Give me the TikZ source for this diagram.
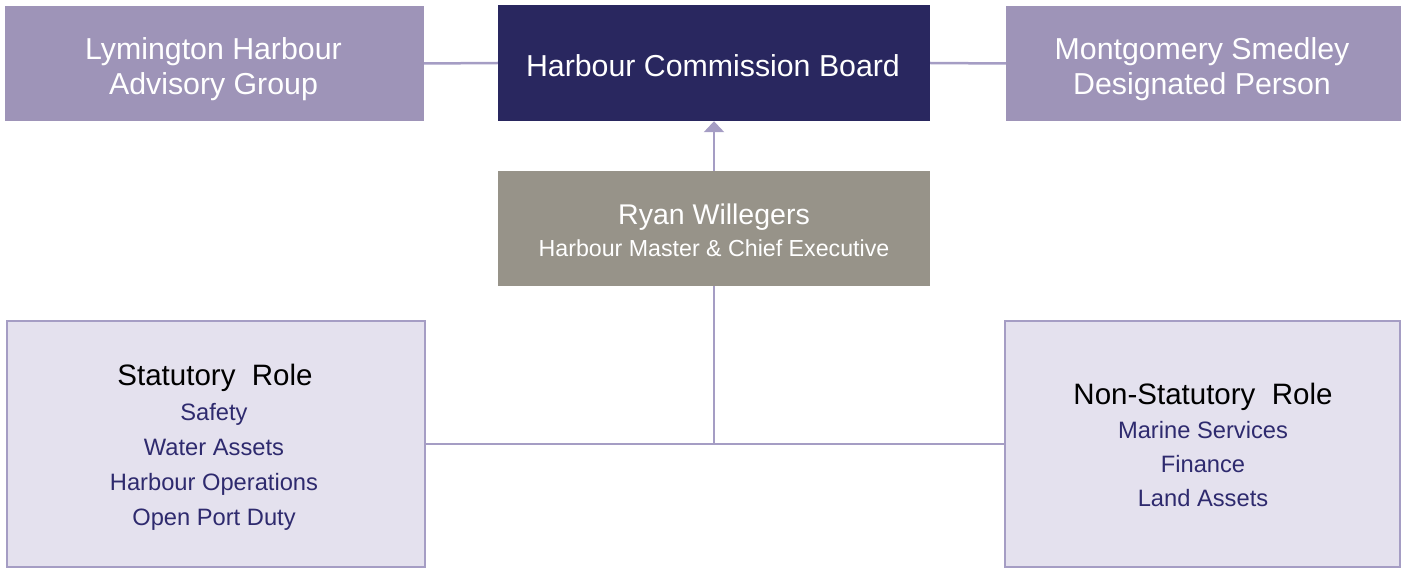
\documentclass[tikz,border=0pt]{standalone}
\usepackage{fontspec}
\setmainfont{Liberation Sans}
\usetikzlibrary{arrows.meta}
\definecolor{lilac}{HTML}{9E94B8}
\definecolor{navy}{HTML}{29275F}
\definecolor{stone}{HTML}{979389}
\definecolor{paleLilac}{HTML}{E4E1EE}
\definecolor{edgeLilac}{HTML}{A59DC4}
\definecolor{itemNavy}{HTML}{2E2A6E}
\tikzset{
  panel/.style={draw=none, fill=#1, inner sep=0pt},
  rolebox/.style={draw=edgeLilac, line width=2.5pt, fill=paleLilac, inner sep=0pt},
  txt/.style={anchor=base, inner sep=0pt, text=white},
  headtxt/.style={txt, font=\fontsize{30.3}{35}\selectfont},
  nametxt/.style={txt, font=\fontsize{28.5}{34}\selectfont},
  subtxt/.style={txt, font=\fontsize{23.2}{34}\selectfont},
  roletxt/.style={txt, text=black, font=\fontsize{29.5}{35}\selectfont},
  itemtxt/.style={txt, text=itemNavy, font=\fontsize{23.7}{35}\selectfont},
  link/.style={draw=edgeLilac, line width=2.5pt},
}
\begin{document}
\begin{tikzpicture}[x=1pt,y=-1pt]
\useasboundingbox (0,0) rectangle (1404,569);
% boxes
\node[panel=lilac, minimum width=419pt, minimum height=115pt] (advisory) at (214.5,63.5) {};
\node[panel=navy, minimum width=432pt, minimum height=116pt] (board) at (714,63) {};
\node[panel=lilac, minimum width=395pt, minimum height=115pt] (designated) at (1203.5,63.5) {};
\node[panel=stone, minimum width=432pt, minimum height=115pt] (hm) at (714,228.5) {};
\node[rolebox, minimum width=418pt, minimum height=246pt] (statutory) at (216,444) {};
\node[rolebox, minimum width=395pt, minimum height=246pt] (nonstatutory) at (1202.5,444) {};
% box texts (placed on their baselines)
\node[headtxt] (advisoryA) at (213.5,59.5) {Lymington Harbour};
\node[headtxt] (advisoryB) at (213.5,94.5) {Advisory Group};
\node[headtxt] (boardT) at (713,77) {Harbour Commission Board};
\node[headtxt] (designatedA) at (1202,59.5) {Montgomery Smedley};
\node[headtxt] (designatedB) at (1202,94.5) {Designated Person};
\node[nametxt] (hmName) at (714,224.3) {Ryan Willegers};
\node[subtxt] (hmRole) at (714,256.7) {Harbour Master \& Chief Executive};
\node[roletxt] (statTitle) at (215,385.7) {Statutory\ \ Role};
\node[itemtxt] (statA) at (214,420.7) {Safety};
\node[itemtxt] (statB) at (214,455.7) {Water Assets};
\node[itemtxt] (statC) at (214,490.3) {Harbour Operations};
\node[itemtxt] (statD) at (214,525) {Open Port Duty};
\node[roletxt] (nonTitle) at (1203,404.3) {Non-Statutory\ \ Role};
\node[itemtxt] (nonA) at (1203,438.5) {Marine Services};
\node[itemtxt] (nonB) at (1203,472.5) {Finance};
\node[itemtxt] (nonC) at (1203,506.7) {Land Assets};
% connectors
\coordinate (junction) at (hm.south |- statutory.east);
\draw[link] (advisory.east) -- (board.west);
\draw[link] (board.east) -- (designated.west);
\draw[link, -{Triangle[width=20pt,length=11pt]}] (hm.north) -- (board.south);
\draw[link] (hm.south) -- (junction);
\draw[link] (statutory.east) -- (nonstatutory.west);
\end{tikzpicture}
\end{document}
